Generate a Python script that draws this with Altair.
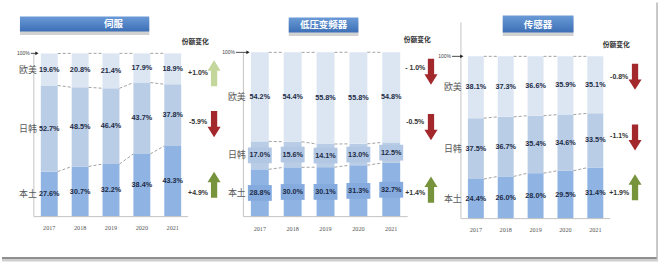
import altair as alt
import pandas as pd

# ---------------- data ----------------
years = [2017, 2018, 2019, 2020, 2021]
rows = ["欧美", "日韩", "本土"]
titles = ["伺服", "低压变频器", "传感器"]
header = "份额变化"

servo_eu = [19.6, 20.8, 21.4, 17.9, 18.9]
servo_jk = [52.7, 48.5, 46.4, 43.7, 37.8]
servo_cn = [27.6, 30.7, 32.2, 38.4, 43.3]
servo_chg = ["+1.0%", "-5.9%", "+4.9%"]

lv_eu = [54.2, 54.4, 55.8, 55.8, 54.8]
lv_jk = [17.0, 15.6, 14.1, 13.0, 12.5]
lv_cn = [28.8, 30.0, 30.1, 31.3, 32.7]
lv_chg = ["- 1.0%", "-0.5%", "+1.4%"]

sen_eu = [38.1, 37.3, 36.6, 35.9, 35.1]
sen_jk = [37.5, 36.7, 35.4, 34.6, 33.5]
sen_cn = [24.4, 26.0, 28.0, 29.5, 31.4]
sen_chg = ["-0.8%", "-1.1%", "+1.9%"]

# ---------------- style / layout ----------------
H = 262
NUM = "Liberation Sans"
CJK = "Noto Sans CJK SC"
SEG_COLORS = ["#dce6f2", "#b9cde6", "#8fb4e3"]
BOX_COLORS = ["#b2c7e3", "#84aade"]
TONES = ["light", "green", "red"]
TONE_COLORS = ["#c3d69b", "#77933c", "#a3282c"]
UP = "M-0.24,1 L0.24,1 L0.24,-0.2 L0.5,-0.2 L0,-1 L-0.5,-0.2 L-0.24,-0.2 Z"
DOWN = "M-0.24,-1 L0.24,-1 L0.24,0.2 L0.5,0.2 L0,1 L-0.5,0.2 L-0.24,0.2 Z"
TITLE_FILL = alt.Gradient(
    gradient="linear",
    stops=[alt.GradientStop(color="#6a9ad6", offset=0),
           alt.GradientStop(color="#3d6fb6", offset=1)],
    x1=0, x2=0, y1=0, y2=1,
)

panels = [
    dict(title=titles[0], eu=servo_eu, jk=servo_jk, cn=servo_cn, chg=servo_chg,
         W=225, s=31, x0=47.5, bw=17, top=51, bottom=215,
         chg_x=2021.82, chg_y=[87.8, 57.9, 14.6],
         arr_x=2022.34, arr_y=[87.8, 56.7, 19.5],
         head=(2021.73, 106.7),
         tbox=(2016.05, 2020.24, 113.4, 122.6), ttext=(2019.08, 118.0),
         axis_x=2016.5, axis_top=100, xend=2021.5,
         pct=(2016.40, 2016.60), row_x=2016.31, year_y=-6.7, boxes=False),
    dict(title=titles[1], eu=lv_eu, jk=lv_jk, cn=lv_cn, chg=lv_chg,
         W=222, s=33, x0=34, bw=18, top=50, bottom=215,
         chg_x=2021.73, chg_y=[90.3, 57.6, 14.5],
         arr_x=2022.21, arr_y=[88.2, 54.5, 16.4],
         head=(2021.79, 107.3),
         tbox=(2017.88, 2020.0, 112.1, 121.2), ttext=(2018.94, 116.7),
         axis_x=2016.5, axis_top=100, xend=2021.5,
         pct=(2016.27, 2016.64), row_x=2016.30, year_y=-7.3, boxes=True),
    dict(title=titles[2], eu=sen_eu, jk=sen_jk, cn=sen_cn, chg=sen_chg,
         W=217, s=30, x0=29, bw=16, top=54, bottom=217,
         chg_x=2021.8, chg_y=[87.1, 50.9, 16.0],
         arr_x=2022.33, arr_y=[87.4, 50.0, 19.3],
         head=(2021.7, 106.7),
         tbox=(2017.9, 2020.27, 114.7, 125.2), ttext=(2019.08, 119.3),
         axis_x=2016.5, axis_top=120.9, xend=2021.5,
         pct=(2016.2, 2016.53), row_x=2016.23, year_y=-6.75, boxes=False),
]


def build(cfg, last=False):
    s, x0, W = cfg["s"], cfg["x0"], cfg["W"]
    top, bottom = cfg["top"], cfg["bottom"]
    pp = (bottom - top) / 100.0
    xs = alt.Scale(domain=[2017 - x0 / s, 2017 + (W - x0) / s], nice=False, zero=False)
    ys = alt.Scale(domain=[-(H - bottom) / pp, 100 + top / pp], nice=False, zero=False)

    def X(f):
        return alt.X(f, type="quantitative", scale=xs, axis=None)

    def Y(f):
        return alt.Y(f, type="quantitative", scale=ys, axis=None)

    hw = cfg["bw"] / 2.0 / s
    eu, jk, cn = cfg["eu"], cfg["jk"], cfg["cn"]

    seg = []
    for i, yr in enumerate(years):
        b, j, e = cn[i], jk[i], eu[i]
        for row, lo, v in [("本土", 0.0, b), ("日韩", b, j), ("欧美", b + j, e)]:
            seg.append(dict(year=yr, row=row, lo=lo, hi=lo + v, mid=lo + v / 2,
                            label=f"{v:.1f}%", xl=yr - hw, xr=yr + hw,
                            bl=yr - 12.0 / s, br=yr + 12.0 / s,
                            blo=lo + v / 2 - 4.8, bhi=lo + v / 2 + 4.8))
    seg = pd.DataFrame(seg)

    dash = []
    for i in range(len(years) - 1):
        b = [cn[i], cn[i] + jk[i], cn[i] + jk[i] + eu[i]]
        c = [cn[i + 1], cn[i + 1] + jk[i + 1], cn[i + 1] + jk[i + 1] + eu[i + 1]]
        for v0, v1 in zip(b, c):
            dash.append(dict(x=years[i] + hw, x2=years[i + 1] - hw, y=v0, y2=v1))
    dash = pd.DataFrame(dash)

    color = alt.Color("row:N", scale=alt.Scale(domain=rows, range=SEG_COLORS), legend=None)

    bars = alt.Chart(seg).mark_rect().encode(
        x=X("xl"), x2=alt.X2("xr"), y=Y("lo"), y2=alt.Y2("hi"), color=color)

    layers = [bars]
    if cfg["boxes"]:
        bx = seg[seg["row"] != "欧美"]
        layers.append(alt.Chart(bx).mark_rect().encode(
            x=X("bl"), x2=alt.X2("br"), y=Y("blo"), y2=alt.Y2("bhi"),
            fill=alt.Fill("row:N", scale=alt.Scale(domain=["日韩", "本土"], range=BOX_COLORS),
                          legend=None)))

    layers.append(alt.Chart(dash).mark_rule(color="#8a8a8a", strokeDash=[3, 2], strokeWidth=0.8).encode(
        x=X("x"), x2=alt.X2("x2"), y=Y("y"), y2=alt.Y2("y2")))

    layers.append(alt.Chart(seg).mark_text(font=NUM, fontSize=7.3, fontWeight="bold", color="#1d2b45").encode(
        x=X("year"), y=Y("mid"), text="label:N"))

    # axis lines
    ax = pd.DataFrame([dict(x=cfg["axis_x"], x2=cfg["xend"], y0=0, yt=cfg["axis_top"])])
    layers.append(alt.Chart(ax).mark_rule(color="#c4c4c4", strokeWidth=1).encode(
        x=X("x"), y=Y("y0"), y2=alt.Y2("yt")))
    layers.append(alt.Chart(ax).mark_rule(color="#c4c4c4", strokeWidth=1).encode(
        x=X("x"), x2=alt.X2("x2"), y=Y("y0")))

    # year labels
    yl = pd.DataFrame(dict(year=years, y=[cfg["year_y"]] * len(years), t=[str(v) for v in years]))
    layers.append(alt.Chart(yl).mark_text(font="Liberation Serif", fontSize=6.2, color="#555555").encode(
        x=X("year"), y=Y("y"), text="t:N"))

    # 100% marker
    pc = pd.DataFrame([dict(x=cfg["pct"][0], x2=cfg["pct"][1], y=100, t="100%")])
    layers.append(alt.Chart(pc).mark_text(font=NUM, fontSize=5, align="right", dx=-1, color="#444444").encode(
        x=X("x"), y=Y("y"), text="t:N"))
    layers.append(alt.Chart(pc).mark_rule(color="#222222", strokeWidth=0.8).encode(
        x=X("x"), x2=alt.X2("x2"), y=Y("y")))
    layers.append(alt.Chart(pc).mark_point(shape="triangle-right", filled=True, size=14,
                                           color="#222222", opacity=1).encode(
        x=X("x2"), y=Y("y")))

    # row labels (aligned with the first bar's segments)
    first = seg[seg["year"] == years[0]].copy()
    first["rx"] = cfg["row_x"]
    layers.append(alt.Chart(first).mark_text(font=CJK, fontSize=9, color="#595959").encode(
        x=X("rx"), y=Y("mid"), text="row:N"))

    # header
    hd = pd.DataFrame([dict(x=cfg["head"][0], y=cfg["head"][1], t=header)])
    layers.append(alt.Chart(hd).mark_text(font=CJK, fontSize=6.8, fontWeight="bold", color="#333333").encode(
        x=X("x"), y=Y("y"), text="t:N"))

    # change labels + arrows
    ch = []
    for k, (row, t) in enumerate(zip(rows, cfg["chg"])):
        up = t.strip().startswith("+")
        tone = ("light" if row == "欧美" else "green") if up else "red"
        ch.append(dict(row=row, t=t, x=cfg["chg_x"], y=cfg["chg_y"][k],
                       ax=cfg["arr_x"], ay=cfg["arr_y"][k],
                       dir="up" if up else "down", tone=tone))
    ch = pd.DataFrame(ch)
    layers.append(alt.Chart(ch).mark_text(font=NUM, fontSize=7, fontWeight="bold", color="#333333").encode(
        x=X("x"), y=Y("y"), text="t:N"))
    layers.append(alt.Chart(ch).mark_point(filled=True, size=690, opacity=1, strokeWidth=0).encode(
        x=X("ax"), y=Y("ay"),
        shape=alt.Shape("dir:N", scale=alt.Scale(domain=["up", "down"], range=[UP, DOWN]), legend=None),
        fill=alt.Fill("tone:N", scale=alt.Scale(domain=TONES, range=TONE_COLORS), legend=None)))

    # title box
    tb = pd.DataFrame([dict(x=cfg["tbox"][0], x2=cfg["tbox"][1], y=cfg["tbox"][2], y2=cfg["tbox"][3],
                            ys=cfg["tbox"][2] - 2.2, ys2=cfg["tbox"][3] - 2.2,
                            tx=cfg["ttext"][0], ty=cfg["ttext"][1], t=cfg["title"])])
    layers.append(alt.Chart(tb).mark_rect(color="#7f7f7f", opacity=0.35).encode(
        x=X("x"), x2=alt.X2("x2"), y=Y("ys"), y2=alt.Y2("ys2")))
    layers.append(alt.Chart(tb).mark_rect(color=TITLE_FILL).encode(
        x=X("x"), x2=alt.X2("x2"), y=Y("y"), y2=alt.Y2("y2")))
    layers.append(alt.Chart(tb).mark_text(font=CJK, fontSize=9.5, fontWeight="bold", color="#ffffff").encode(
        x=X("tx"), y=Y("ty"), text="t:N"))

    # frame (bottom shadow, right edge)
    one = pd.DataFrame([dict(k=1)])
    layers.append(alt.Chart(one).mark_rule(color="#cfcfcf", strokeWidth=3).encode(
        x=alt.value(0), x2=alt.value(W if not last else 212), y=alt.value(258.5)))
    layers.append(alt.Chart(one).mark_rule(color="#8f8f8f", strokeWidth=2).encode(
        x=alt.value(0), x2=alt.value(W if not last else 211), y=alt.value(256.5)))
    if last:
        layers.append(alt.Chart(one).mark_rule(color="#b5b5b5", strokeWidth=1.5).encode(
            x=alt.value(211), y=alt.value(0), y2=alt.value(257)))

    return alt.layer(*layers).resolve_scale(color="independent", fill="independent").properties(width=W, height=H)


charts = [build(c, last=(i == 2)) for i, c in enumerate(panels)]
chart = alt.hconcat(*charts, spacing=0, bounds="flush").properties(
    padding=0, background="#ffffff"
).configure_view(stroke="transparent")

chart.save("out.html", embed_options={"renderer": "svg", "actions": False})
